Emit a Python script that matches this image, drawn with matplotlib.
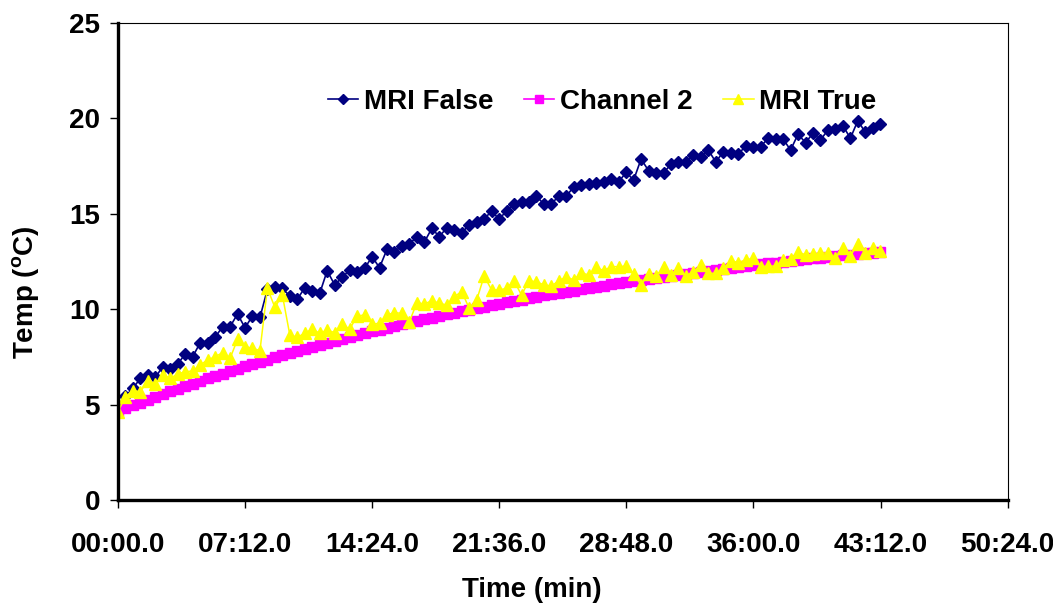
import numpy as np
import matplotlib
matplotlib.use("Agg")
from matplotlib import pyplot as plt
from matplotlib.ticker import MultipleLocator, FuncFormatter

plt.rcParams['font.family'] = ['Liberation Sans', 'DejaVu Sans']
plt.rcParams['font.weight'] = 'bold'
plt.rcParams['mathtext.fontset'] = 'custom'
plt.rcParams['mathtext.rm'] = 'Liberation Sans:bold'
plt.rcParams['mathtext.bf'] = 'Liberation Sans:bold'

# logger sampled every 25.4 s
SAMPLE_INTERVAL_S = 25.4

mri_false = [
    4.65, 5.45, 5.85, 6.38, 6.55, 6.43, 6.99, 6.85, 7.13, 7.65,
    7.51, 8.24, 8.21, 8.53, 9.08, 9.08, 9.75, 9.03, 9.64, 9.57,
    11.04, 11.18, 11.09, 10.69, 10.52, 11.13, 10.95, 10.83, 12.02, 11.27,
    11.67, 12.05, 11.97, 12.14, 12.75, 12.18, 13.14, 13.02, 13.31, 13.42,
    13.80, 13.52, 14.24, 13.80, 14.27, 14.15, 14.01, 14.41, 14.59, 14.71,
    15.16, 14.71, 15.16, 15.51, 15.64, 15.60, 15.93, 15.50, 15.51, 15.95,
    15.93, 16.42, 16.51, 16.55, 16.60, 16.65, 16.81, 16.68, 17.17, 16.77,
    17.87, 17.26, 17.15, 17.15, 17.59, 17.70, 17.70, 18.08, 17.96, 18.34,
    17.71, 18.26, 18.21, 18.13, 18.55, 18.52, 18.52, 18.96, 18.90, 18.92,
    18.34, 19.17, 18.73, 19.22, 18.87, 19.39, 19.44, 19.62, 18.96, 19.88,
    19.27, 19.51, 19.69,
]

channel_2 = [
    4.65, 4.80, 4.96, 5.11, 5.25, 5.40, 5.54, 5.69, 5.83, 5.96,
    6.10, 6.23, 6.37, 6.50, 6.62, 6.75, 6.88, 7.00, 7.12, 7.24,
    7.36, 7.47, 7.59, 7.70, 7.81, 7.92, 8.03, 8.14, 8.24, 8.34,
    8.45, 8.55, 8.65, 8.74, 8.84, 8.93, 9.03, 9.12, 9.21, 9.30,
    9.39, 9.48, 9.56, 9.65, 9.73, 9.81, 9.90, 9.98, 10.05, 10.13,
    10.21, 10.28, 10.36, 10.43, 10.50, 10.58, 10.65, 10.72, 10.78, 10.85,
    10.92, 10.98, 11.05, 11.11, 11.18, 11.24, 11.30, 11.36, 11.42, 11.48,
    11.53, 11.59, 11.65, 11.70, 11.76, 11.81, 11.86, 11.92, 11.97, 12.02,
    12.07, 12.12, 12.16, 12.21, 12.26, 12.31, 12.35, 12.40, 12.44, 12.49,
    12.53, 12.57, 12.61, 12.66, 12.70, 12.74, 12.78, 12.82, 12.85, 12.89,
    12.93, 12.97, 13.00,
]

mri_true = [
    4.63, 5.42, 5.73, 5.68, 6.25, 6.08, 6.55, 6.38, 6.60, 6.73,
    6.76, 7.08, 7.34, 7.51, 7.72, 7.42, 8.42, 8.04, 7.95, 7.83,
    11.09, 10.10, 10.74, 8.65, 8.53, 8.74, 8.95, 8.74, 8.91, 8.77,
    9.22, 8.95, 9.64, 9.70, 9.22, 9.26, 9.70, 9.82, 9.78, 9.35,
    10.34, 10.27, 10.45, 10.31, 10.22, 10.66, 10.92, 10.05, 10.48, 11.74,
    11.01, 11.01, 11.09, 11.49, 10.74, 11.49, 11.44, 11.27, 11.22, 11.49,
    11.70, 11.53, 11.91, 11.79, 12.19, 12.02, 12.23, 12.23, 12.26, 11.84,
    11.27, 11.84, 11.74, 12.19, 11.79, 12.14, 11.74, 11.97, 12.32, 11.88,
    11.88, 12.14, 12.55, 12.44, 12.58, 12.67, 12.23, 12.26, 12.26, 12.58,
    12.61, 13.01, 12.84, 12.89, 12.93, 12.96, 12.67, 13.19, 12.79, 13.42,
    12.93, 13.19, 13.07,
]

time_min = np.arange(len(mri_false)) * SAMPLE_INTERVAL_S / 60.0


def mmss(v, pos):
    total = round(v * 600) / 10.0
    m = int(total // 60)
    s = total - 60 * m
    return f"{m:02d}:{s:04.1f}"


fig = plt.figure(figsize=(10.53, 6.13), dpi=100)
ax = fig.add_axes([0.112, 0.1843, 0.845, 0.7782])

ax.plot(time_min, mri_false, color='#000080', marker='D', markersize=6.5,
        linewidth=1.2, label='MRI False')
ax.plot(time_min, channel_2, color='#FF00FF', marker='s', markersize=6.5,
        linewidth=1.2, label='Channel 2')
ax.plot(time_min, mri_true, color='#FFFF00', marker='^', markersize=8,
        linewidth=1.1, label='MRI True')

ax.set_xlim(0, 50.4)
ax.set_ylim(0, 25)
ax.xaxis.set_major_locator(MultipleLocator(7.2))
ax.xaxis.set_major_formatter(FuncFormatter(mmss))
ax.yaxis.set_major_locator(MultipleLocator(5))

ax.tick_params(axis='x', direction='out', length=6, width=1, pad=17, labelsize=20)
ax.tick_params(axis='y', direction='out', length=6, width=1, pad=7, labelsize=20)

for side in ('left', 'bottom'):
    ax.spines[side].set_linewidth(2.4)
for side in ('top', 'right'):
    ax.spines[side].set_linewidth(0.8)

ax.legend(loc='center', bbox_to_anchor=(0.544, 0.835), ncol=3, frameon=False,
          fontsize=20, handlelength=1.1, handletextpad=0.2, columnspacing=1.1,
          borderaxespad=0, markerscale=0.85)

fig.text(0.505, 0.0375, 'Time (min)', ha='center', va='center', fontsize=20,
         fontweight='bold')
fig.text(0.025, 0.524, r'Temp ($^{\mathbf{o}}$C)', ha='center', va='center',
         rotation=90, fontsize=20, fontweight='bold')

fig.savefig('out.png', dpi=100)
